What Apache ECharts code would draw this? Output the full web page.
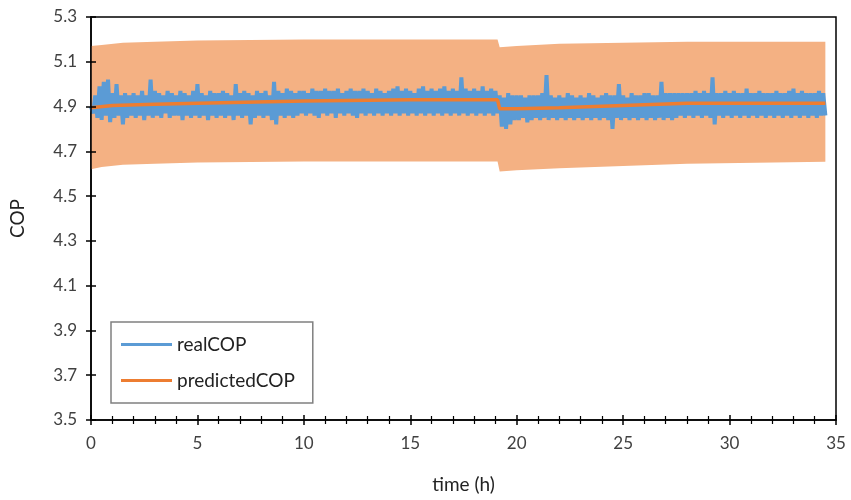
<!DOCTYPE html>
<html>
<head>
<meta charset="utf-8">
<script src="https://cdn.jsdelivr.net/npm/echarts@6/dist/echarts.min.js"></script>
<style>html,body{margin:0;padding:0;background:#fff;}#c{width:851px;height:500px;}</style>
</head>
<body>
<div id="c"></div>
<script>
// ---- data ----
const xTicks = [0, 5, 10, 15, 20, 25, 30, 35];
const yTicks = [3.5, 3.7, 3.9, 4.1, 4.3, 4.5, 4.7, 4.9, 5.1, 5.3];

// realCOP sampled every 0.1 h from t = 0 to t = 34.5
const realStepH = 0.1;
const realCOP = [
 4.90,4.87,4.95,4.85,4.99,4.84,5.01,4.86,5.02,4.83,4.96,4.85,5.00,4.86,4.95,4.82,4.96,4.85,4.95,4.86,
 4.96,4.85,4.95,4.86,4.97,4.84,4.95,4.86,5.02,4.85,4.97,4.86,4.96,4.85,4.95,4.87,4.97,4.85,4.96,4.86,
 4.95,4.86,4.97,4.84,4.96,4.86,4.95,4.85,4.97,4.86,5.00,4.85,4.96,4.86,4.95,4.84,4.97,4.86,4.96,4.85,
 4.96,4.86,4.97,4.85,4.96,4.86,4.95,4.84,5.00,4.86,4.96,4.85,4.97,4.86,4.96,4.82,4.95,4.85,4.97,4.86,
 4.96,4.85,4.97,4.86,4.95,4.84,5.01,4.82,4.97,4.86,4.96,4.85,4.98,4.86,4.97,4.85,4.96,4.86,4.97,4.87,
 4.97,4.86,4.96,4.87,4.98,4.86,4.97,4.85,4.97,4.87,4.98,4.86,4.97,4.87,4.97,4.85,4.98,4.87,4.96,4.86,
 4.97,4.87,4.98,4.86,4.97,4.85,4.97,4.87,4.98,4.86,4.97,4.87,4.96,4.86,4.98,4.87,4.97,4.86,4.96,4.87,
 4.97,4.86,4.98,4.87,4.99,4.86,4.97,4.87,4.98,4.86,4.97,4.87,4.96,4.86,4.98,4.87,4.99,4.86,4.97,4.87,
 4.98,4.86,4.97,4.87,4.98,4.86,4.99,4.87,4.97,4.86,4.98,4.87,4.97,4.86,5.03,4.87,4.98,4.86,4.97,4.87,
 4.98,4.86,4.97,4.87,4.99,4.86,4.97,4.87,4.98,4.86,4.97,4.87,
 4.95,4.81,4.94,4.80,4.96,4.82,4.95,4.84,
 4.95,4.84,4.95,4.85,4.94,4.83,4.95,4.84,4.95,4.85,4.95,4.84,4.96,4.85,5.04,4.84,4.95,4.85,4.94,4.84,
 4.95,4.85,4.94,4.84,4.96,4.85,4.95,4.84,4.94,4.85,4.95,4.84,4.94,4.85,4.96,4.84,4.95,4.85,4.94,4.84,
 4.95,4.85,4.96,4.84,4.95,4.80,4.95,4.85,5.00,4.84,4.95,4.85,4.94,4.84,4.96,4.85,4.95,4.84,4.95,4.85,
 4.96,4.84,4.96,4.85,4.95,4.84,4.95,4.85,5.01,4.84,4.96,4.85,4.96,4.84,4.96,4.85,4.96,4.86,4.96,4.85,
 4.96,4.86,4.96,4.85,4.97,4.86,4.96,4.85,4.97,4.86,4.96,4.85,5.03,4.82,4.96,4.86,4.96,4.85,4.97,4.86,
 4.96,4.85,4.97,4.86,4.96,4.85,4.96,4.86,4.98,4.85,4.96,4.86,4.96,4.85,4.97,4.86,4.96,4.85,4.96,4.86,
 4.96,4.85,4.97,4.86,4.96,4.85,4.96,4.86,4.97,4.85,4.98,4.86,4.96,4.85,4.97,4.86,4.96,4.85,4.96,4.86,
 4.96,4.85,4.97,4.86,4.96,4.86
];

// predictedCOP (smooth line)
const predTime = [0, 1, 3, 5, 10, 15, 19.1, 19.2, 20, 22, 25, 28, 31, 34.5];
const predictedCOP = [4.895, 4.905, 4.91, 4.915, 4.925, 4.93, 4.93, 4.89, 4.89, 4.895, 4.905, 4.915, 4.915, 4.915];

// prediction band (lower / upper bound)
const bandTime  = [0, 0.5, 1.5, 3, 5, 10, 15, 19.1, 19.2, 20, 22, 25, 28, 34.5];
const bandUpper = [5.17, 5.175, 5.185, 5.19, 5.195, 5.20, 5.20, 5.20, 5.165, 5.17, 5.18, 5.185, 5.19, 5.19];
const bandLower = [4.62, 4.63, 4.64, 4.645, 4.65, 4.655, 4.655, 4.655, 4.61, 4.615, 4.625, 4.635, 4.645, 4.653];

// ---- build ----
const FONT = 'Lato';
const realData = realCOP.map((v, i) => [+(i * realStepH).toFixed(1), v]);
const predData = predTime.map((t, i) => [t, predictedCOP[i]]);

const chart = echarts.init(document.getElementById('c'), null, {renderer: 'canvas'});
const axisFont = {fontFamily: FONT, fontSize: 17, color: '#404040'};
chart.setOption({
  animation: false,
  backgroundColor: '#fff',
  grid: {left: 90, right: 15, top: 17, bottom: 80, show: true, borderColor: '#000', borderWidth: 1.5, backgroundColor: 'transparent'},
  legend: {
    data: [{name: 'realCOP'}, {name: 'predictedCOP'}],
    orient: 'vertical', left: 111, top: 322,
    icon: 'rect', itemWidth: 51, itemHeight: 3, itemGap: 17,
    padding: [13, 18, 13, 10],
    borderColor: '#808080', borderWidth: 1.5,
    textStyle: {fontFamily: FONT, fontSize: 19, color: '#222'}
  },
  xAxis: [{
    type: 'value', min: xTicks[0], max: xTicks[xTicks.length - 1], interval: 5,
    name: 'time (h)', nameLocation: 'middle', nameGap: 55,
    nameTextStyle: {fontFamily: FONT, fontSize: 19, color: '#222'},
    axisLine: {show: true, lineStyle: {color: '#000', width: 1.5}},
    axisTick: {show: true, length: 5, lineStyle: {color: '#000', width: 1.5}},
    minorTick: {show: true, splitNumber: 5, length: 4, lineStyle: {color: '#000', width: 1.2}},
    axisLabel: Object.assign({margin: 15}, axisFont),
    splitLine: {show: false}
  }, {
    type: 'value', position: 'bottom', min: xTicks[0], max: xTicks[xTicks.length - 1], interval: 5,
    axisLine: {show: false},
    axisTick: {show: true, inside: true, length: 5, lineStyle: {color: '#000', width: 1.5}},
    minorTick: {show: true, splitNumber: 5, length: 4, lineStyle: {color: '#000', width: 1.2}},
    axisLabel: {show: false}, splitLine: {show: false}, z: 10
  }],
  yAxis: [{
    type: 'value', min: yTicks[0], max: yTicks[yTicks.length - 1], interval: 0.2,
    name: 'COP', nameLocation: 'middle', nameGap: 64, nameRotate: 90,
    nameTextStyle: {fontFamily: FONT, fontSize: 19, color: '#222'},
    axisLine: {show: true, lineStyle: {color: '#000', width: 1.5}},
    axisTick: {show: true, length: 5, lineStyle: {color: '#000', width: 1.5}},
    axisLabel: Object.assign({margin: 14, formatter: v => v.toFixed(1)}, axisFont),
    splitLine: {show: false}, z: 10
  }, {
    type: 'value', position: 'left', min: yTicks[0], max: yTicks[yTicks.length - 1], interval: 0.2,
    axisLine: {show: false},
    axisTick: {show: true, inside: true, length: 5, lineStyle: {color: '#000', width: 1.5}},
    axisLabel: {show: false}, splitLine: {show: false}, z: 10
  }],
  series: [
    {name: 'band', type: 'custom', silent: true, z: 1, clip: true,
     data: [[bandTime[0], bandUpper[0]]],
     renderItem: function (params, api) {
       const pts = [];
       for (let i = 0; i < bandTime.length; i++) pts.push(api.coord([bandTime[i], bandUpper[i]]));
       for (let i = bandTime.length - 1; i >= 0; i--) pts.push(api.coord([bandTime[i], bandLower[i]]));
       return {type: 'polygon', shape: {points: pts}, style: {fill: '#F4B183'}};
     }},
    {name: 'realCOP', type: 'line', data: realData, symbol: 'none',
     lineStyle: {color: '#5B9BD5', width: 4, join: 'bevel'}, itemStyle: {color: '#5B9BD5'}, z: 2},
    {name: 'predictedCOP', type: 'line', data: predData, symbol: 'none',
     lineStyle: {color: '#ED7D31', width: 3.5}, itemStyle: {color: '#ED7D31'}, z: 3}
  ]
});
</script>
</body>
</html>
